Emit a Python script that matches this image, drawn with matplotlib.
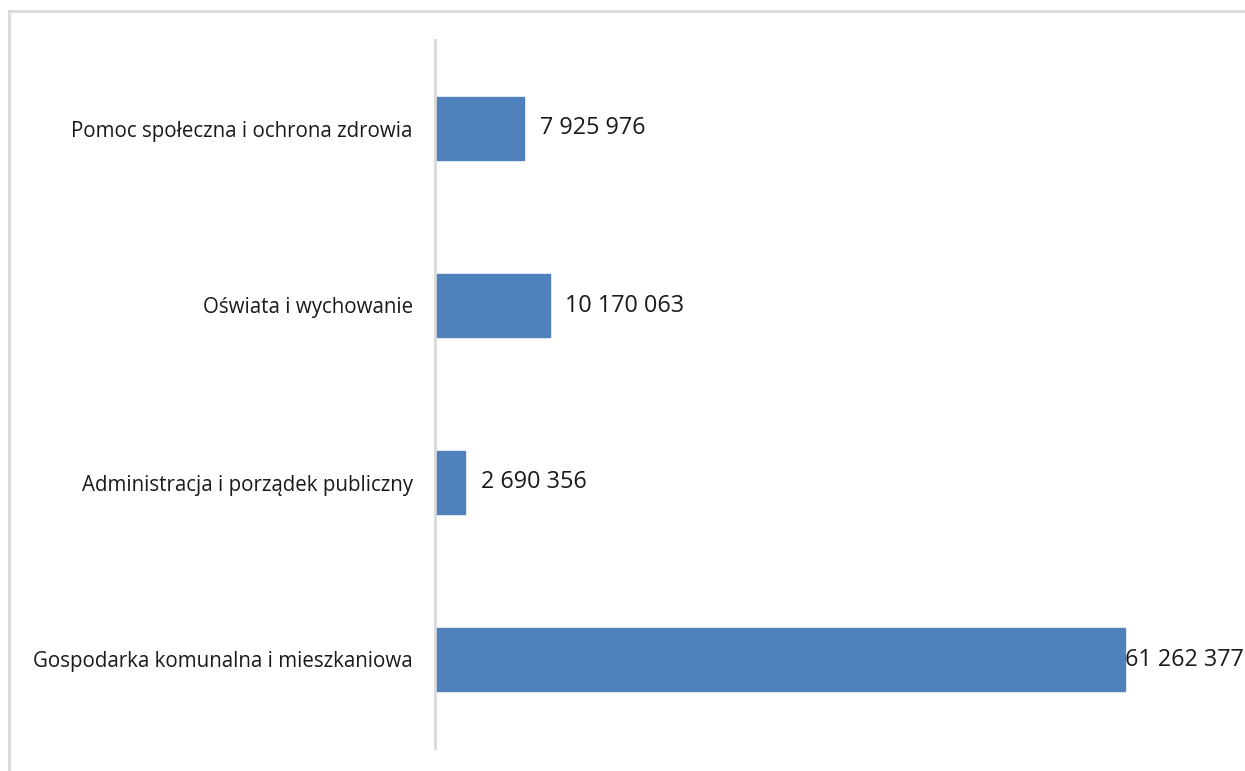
import matplotlib.pyplot as plt
from matplotlib.patches import Rectangle

# dane
categories = ['Gospodarka komunalna i mieszkaniowa',
              'Administracja i porządek publiczny',
              'Oświata i wychowanie',
              'Pomoc społeczna i ochrona zdrowia']
values = [61262377, 2690356, 10170063, 7925976]
value_labels = ['61 262 377', '2 690 356', '10 170 063', '7 925 976']

W, H = 1245, 771
fig = plt.figure(figsize=(W / 100, H / 100), dpi=100)
ax = fig.add_axes([435 / W, 23 / H, 1 - 435 / W, 708 / H])

y = range(len(categories))
ax.barh(y, values, height=0.356, color='#4F81BD', edgecolor='#4F81BD')

xmax = max(values) * (810 / 690)
ax.set_xlim(0, xmax)
ax.set_ylim(-0.5, len(categories) - 0.5)

for i, (v, lab) in enumerate(zip(values, value_labels)):
    off = 0 if v == max(values) else 11
    ax.annotate(lab, (v, i), xytext=(off, 0), textcoords='offset points',
                ha='left', va='center', fontsize=16.8, color='#1a1a1a',
                family='Open Sans')

ax.set_yticks(list(y))
ax.set_yticklabels(categories, fontsize=14.8, color='#1a1a1a', family='Open Sans')
ax.tick_params(axis='y', length=0, pad=16)
ax.set_xticks([])
for s in ['top', 'right', 'bottom']:
    ax.spines[s].set_visible(False)
ax.spines['left'].set_color('#D9D9D9')
ax.spines['left'].set_linewidth(2)

# ramka wykresu
fig.patches.append(Rectangle((9 / W, -0.1), 1.2, 1 - 11 / H + 0.1,
                             transform=fig.transFigure, fill=False,
                             edgecolor='#D9D9D9', linewidth=2))

fig.savefig('out.png', dpi=100)
